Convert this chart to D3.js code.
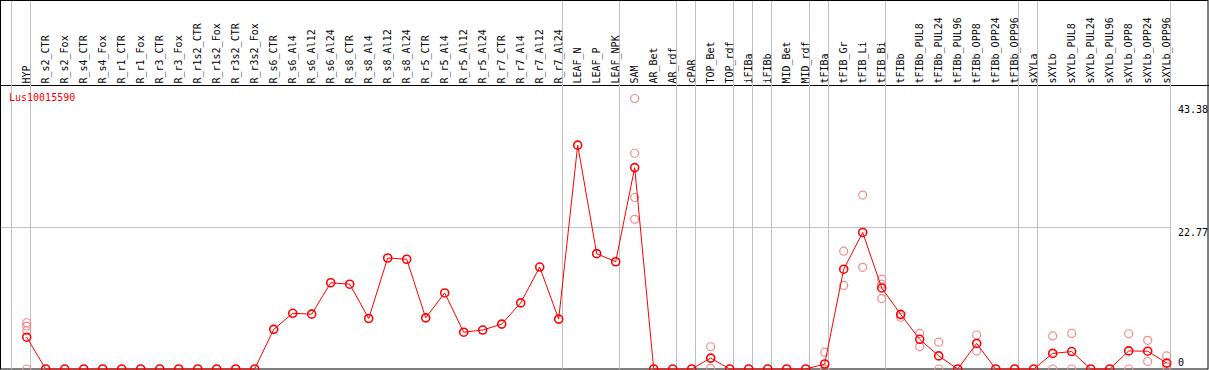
<!DOCTYPE html>
<html>
<head>
<meta charset="utf-8">
<script src="https://cdn.jsdelivr.net/npm/d3@7"></script>
<style>
  body { margin: 0; background: #fff; }
  text { font-family: "DejaVu Sans Mono", monospace; font-size: 10px; }
</style>
</head>
<body>
<div id="chart-container"></div>
<script>
const gene = "Lus10015590";

const categories = [
    "HYP", "R_s2_CTR", "R_s2_Fox", "R_s4_CTR", "R_s4_Fox", "R_r1_CTR", "R_r1_Fox",
    "R_r3_CTR", "R_r3_Fox", "R_r1s2_CTR", "R_r1s2_Fox", "R_r3s2_CTR", "R_r3s2_Fox",
    "R_s6_CTR", "R_s6_Al4", "R_s6_Al12", "R_s6_Al24", "R_s8_CTR", "R_s8_Al4", "R_s8_Al12",
    "R_s8_Al24", "R_r5_CTR", "R_r5_Al4", "R_r5_Al12", "R_r5_Al24", "R_r7_CTR", "R_r7_Al4",
    "R_r7_Al12", "R_r7_Al24", "LEAF_N", "LEAF_P", "LEAF_NPK", "SAM", "AR_Bet", "AR_rdf",
    "cPAR", "TOP_Bet", "TOP_rdf", "iFIBa", "iFIBb", "MID_Bet", "MID_rdf", "tFIBa",
    "tFIB_Gr", "tFIB_Li", "tFIB_Bi", "tFIBb", "tFIBb_PUL8", "tFIBb_PUL24", "tFIBb_PUL96",
    "tFIBb_OPP8", "tFIBb_OPP24", "tFIBb_OPP96", "sXYLa", "sXYLb", "sXYLb_PUL8",
    "sXYLb_PUL24", "sXYLb_PUL96", "sXYLb_OPP8", "sXYLb_OPP24", "sXYLb_OPP96"
];

// number of columns in each tissue group (gray dividers between them)
const groupSizes = [1, 28, 3, 3, 1, 2, 1, 1, 2, 1, 3, 7, 1, 7];

const means = [
    5.1, 0, 0, 0, 0, 0, 0, 0, 0, 0, 0, 0, 0,
    6.36, 8.93, 8.8, 13.83, 13.6, 8.1, 17.8, 17.6, 8.2, 12.2, 5.9, 6.25, 7.2, 10.6, 16.35, 8.0,
    35.9, 18.5, 17.2, 32.3, 0, 0, 0, 1.75, 0, 0, 0, 0, 0, 0.8,
    16.0, 21.9, 13.0, 8.77, 4.76, 2.1, 0, 4.1, 0, 0, 0,
    2.5, 2.8, 0, 0, 2.9, 2.85, 0.95
];

// individual replicate values (only those visible apart from the mean)
const replicates = {
    "HYP": [7.42, 6.89, 6.14, 0],
    "SAM": [43.38, 34.6, 27.5, 24.0],
    "TOP_Bet": [3.57, 0.1],
    "tFIBa": [2.7, 0, 0],
    "tFIB_Gr": [18.9, 13.4],
    "tFIB_Li": [27.9, 16.3],
    "tFIB_Bi": [14.4, 13.6, 11.3],
    "tFIBb": [8.65, 8.3],
    "tFIBb_PUL8": [5.7, 3.6],
    "tFIBb_PUL24": [4.3, 0],
    "tFIBb_OPP8": [5.45, 2.9],
    "sXYLb": [5.3, 0],
    "sXYLb_PUL8": [5.7, 0],
    "sXYLb_OPP8": [5.65, 0],
    "sXYLb_OPP24": [4.6, 1.2],
    "sXYLb_OPP96": [2.1, 0.35]
};

const yTicks = [0, 22.77, 43.38];

const width = 1209;
const height = 370;
const headerY = 85.5;
const bottomY = 369;

const svg = d3.select("#chart-container")
    .append("svg")
    .attr("width", width)
    .attr("height", height);

const x = d3.scaleBand()
    .domain(categories)
    .range([11.5, 11.5 + 19 * categories.length]);

const y = d3.scaleLinear()
    .domain([0, 43.38])
    .range([bottomY, 98.5]);

const plotRight = x.range()[1];

// frame
svg.append("rect")
    .attr("x", 0.5).attr("y", 0.5)
    .attr("width", width - 1.5).attr("height", bottomY - 0.5)
    .attr("fill", "none").attr("stroke", "#000");

svg.append("line")
    .attr("x1", 0).attr("x2", width)
    .attr("y1", headerY).attr("y2", headerY)
    .attr("stroke", "#000");

// group dividers
let dividers = [0];
groupSizes.forEach(n => dividers.push(dividers[dividers.length - 1] + n));

svg.selectAll(".divider")
    .data(dividers)
    .enter()
    .append("line")
    .attr("class", "divider")
    .attr("x1", d => x.range()[0] + d * x.bandwidth())
    .attr("x2", d => x.range()[0] + d * x.bandwidth())
    .attr("y1", 1).attr("y2", bottomY)
    .attr("stroke", "#c0c0c0");

// mid reference line
svg.append("line")
    .attr("x1", 1).attr("x2", plotRight)
    .attr("y1", Math.round(y(yTicks[1])) + 0.5)
    .attr("y2", Math.round(y(yTicks[1])) + 0.5)
    .attr("stroke", "#c0c0c0");

// column labels
svg.selectAll(".cat")
    .data(categories)
    .enter()
    .append("text")
    .attr("class", "cat")
    .attr("transform", d => "translate(" + (x(d) + 18.5) + "," + 83.5 + ") rotate(-90)")
    .attr("fill", "#000")
    .text(d => d);

// y labels on the right
svg.selectAll(".ytick")
    .data(yTicks)
    .enter()
    .append("text")
    .attr("class", "ytick")
    .attr("x", 1178)
    .attr("y", d => Math.min(Math.max(y(d) + 9, 113), 366))
    .attr("fill", "#000")
    .text(d => d);

svg.append("text")
    .attr("x", 9)
    .attr("y", 100.5)
    .attr("fill", "#ff0000")
    .text(gene);

const cx = d => x(d) + 15.2;

// replicates
const repPoints = [];
Object.keys(replicates).forEach(c => {
    replicates[c].forEach(v => repPoints.push({ cat: c, value: v }));
});

svg.selectAll(".rep")
    .data(repPoints)
    .enter()
    .append("circle")
    .attr("class", "rep")
    .attr("cx", d => cx(d.cat))
    .attr("cy", d => y(d.value))
    .attr("r", 4)
    .attr("fill", "none")
    .attr("stroke", "#f08c8c")
    .attr("stroke-width", 1.2);

// mean line
const line = d3.line()
    .x((d, i) => cx(categories[i]))
    .y(d => y(d));

svg.append("path")
    .attr("d", line(means))
    .attr("fill", "none")
    .attr("stroke", "#ff0000")
    .attr("stroke-width", 1);

svg.selectAll(".mean")
    .data(means)
    .enter()
    .append("circle")
    .attr("class", "mean")
    .attr("cx", (d, i) => cx(categories[i]))
    .attr("cy", d => y(d))
    .attr("r", 4)
    .attr("fill", "none")
    .attr("stroke", "#ff0000")
    .attr("stroke-width", 1.6);
</script>
</body>
</html>
